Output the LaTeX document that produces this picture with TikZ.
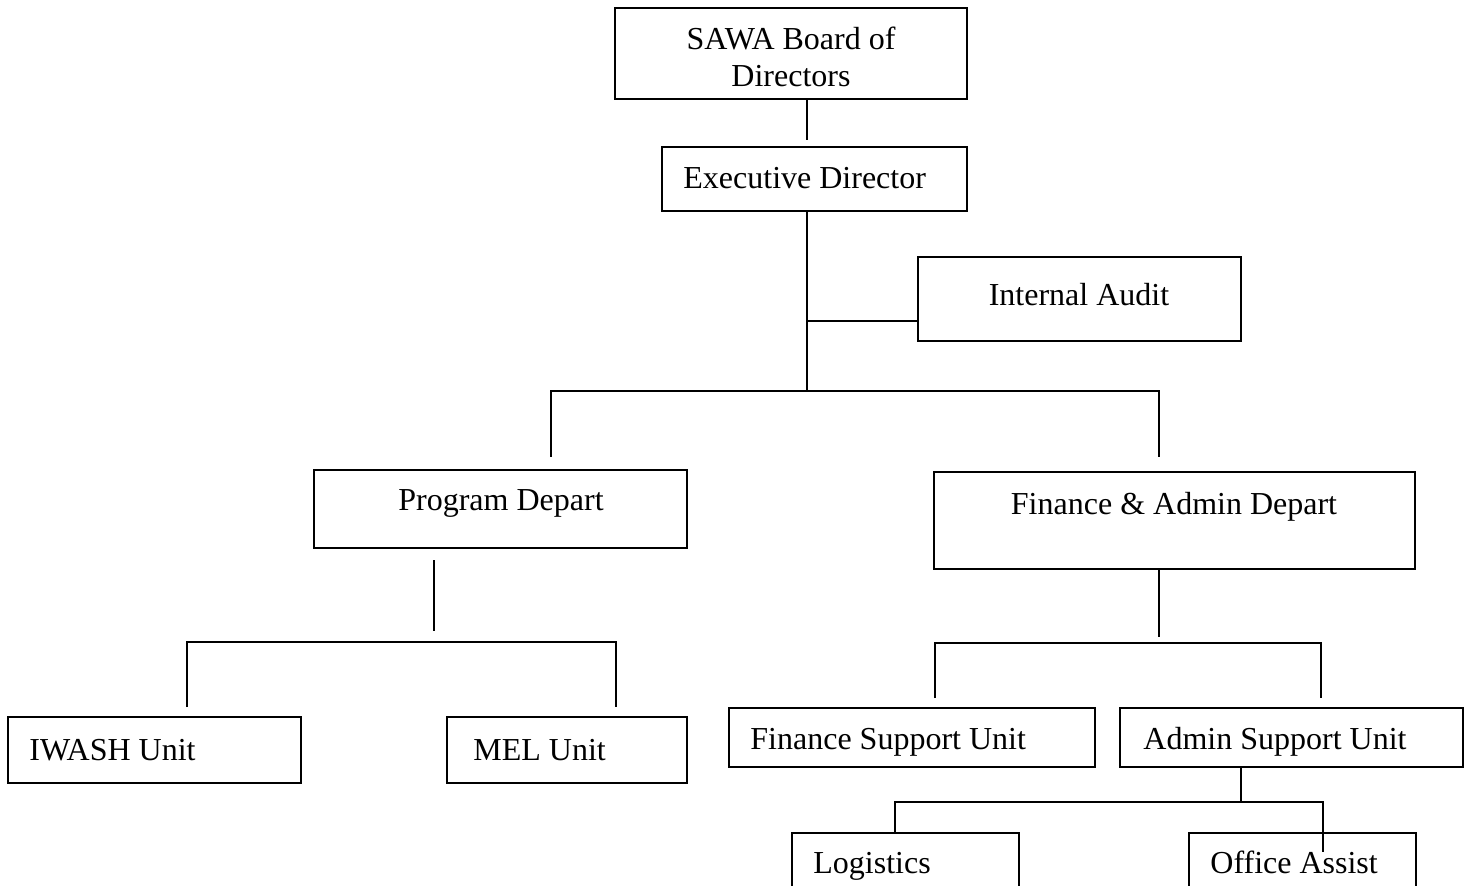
\documentclass[tikz,border=0pt]{standalone}
\usepackage{fontspec}
\setmainfont{Liberation Serif}
\usetikzlibrary{fit}
\begin{document}
\begin{tikzpicture}[x=0.5pt,y=-0.5pt,
  box/.style={draw, line width=1pt, inner sep=0pt},
  lbl/.style={inner sep=0pt, font=\fontsize{16}{18.5}\selectfont},
  conn/.style={line width=0.9pt}]
\useasboundingbox (0,0) rectangle (1470,886);
% boxes
\node[box, fit={(615,8)(967,99)}] (board) {};
\node[box, fit={(662,147)(967,211)}] (exec) {};
\node[box, fit={(918,257)(1241,341)}] (audit) {};
\node[box, fit={(314,470)(687,548)}] (prog) {};
\node[box, fit={(934,472)(1415,569)}] (fin) {};
\node[box, fit={(8,717)(301,783)}] (iwash) {};
\node[box, fit={(447,717)(687,783)}] (mel) {};
\node[box, fit={(729,708)(1095,767)}] (finsup) {};
\node[box, fit={(1120,708)(1463,767)}] (admsup) {};
\node[box, fit={(792,833)(1019,910)}] (logi) {};
\node[box, fit={(1189,833)(1416,910)}] (office) {};
% labels
\node[lbl, anchor=base, align=center] (boardT) at (791,87) {SAWA Board of\\Directors};
\node[lbl, anchor=base west] (execT) at (683,189) {Executive Director};
\node[lbl, anchor=base] (auditT) at (1079,306) {Internal Audit};
\node[lbl, anchor=base] (progT) at (501,510) {Program Depart};
\node[lbl, anchor=base] (finT) at (1174,515) {Finance \& Admin Depart};
\node[lbl, anchor=base west] (iwashT) at (29,760) {IWASH Unit};
\node[lbl, anchor=base west] (melT) at (473,760) {MEL Unit};
\node[lbl, anchor=base west] (finsupT) at (750,749) {Finance Support Unit};
\node[lbl, anchor=base west] (admsupT) at (1143,749) {Admin Support Unit};
\node[lbl, anchor=base west] (logiT) at (813,873) {Logistics};
\node[lbl, anchor=base west] (officeT) at (1210,873) {Office Assist};
% coordinates
\coordinate (c1) at (807,140);
\coordinate (spine) at (807,391);
\coordinate (aud) at (807,321);
\coordinate (pL) at (551,457);
\coordinate (fR) at (1159,457);
\coordinate (pv1) at (434,560);
\coordinate (pv2) at (434,631);
\coordinate (pbus) at (0,642);
\coordinate (iw) at (187,707);
\coordinate (me) at (616,707);
\coordinate (fv) at (1159,637);
\coordinate (fbus) at (0,643);
\coordinate (fs) at (935,698);
\coordinate (as) at (1321,698);
\coordinate (av) at (1241,802);
\coordinate (lg) at (895,0);
\coordinate (oa) at (1323,852);
% connectors
\draw[conn] (board.south -| c1) -- (c1);
\draw[conn] (exec.south -| spine) -- (spine);
\draw[conn] (aud) -- (aud -| audit.west);
\draw[conn] (pL) |- (spine) -| (fR);
\draw[conn] (pv1) -- (pv2);
\draw[conn] (iw) -- (iw |- pbus) -- (me |- pbus) -- (me);
\draw[conn] (fin.south -| fv) -- (fv);
\draw[conn] (fs) -- (fs |- fbus) -- (as |- fbus) -- (as);
\draw[conn] (admsup.south -| av) -- (av);
\draw[conn] (logi.north -| lg) |- (av) -| (oa);
\end{tikzpicture}
\end{document}
